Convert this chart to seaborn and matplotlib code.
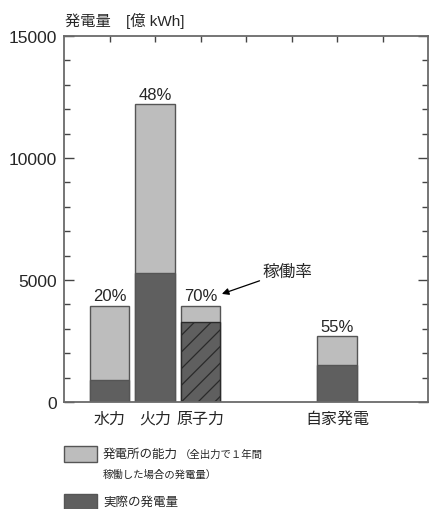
import matplotlib.pyplot as plt
import seaborn as sns
from matplotlib.patches import Rectangle
from matplotlib.ticker import MultipleLocator

categories = ["水力", "火力", "原子力", "自家発電"]
capacity = [3930, 12200, 3930, 2690]
actual = [910, 5280, 3260, 1530]
rates = ["20%", "48%", "70%", "55%"]

# layout: slot of each category on the x axis (1..7, with gaps)
slots = [1, 2, 3, 6]

light = "#bdbdbd"
dark = "#5f5f5f"
edge = "#555555"

sns.set_style("white")
plt.rcParams["font.family"] = ["Liberation Sans", "Noto Sans CJK JP", "DejaVu Sans"]
plt.rcParams["hatch.linewidth"] = 0.9

fig = plt.figure(figsize=(4.3, 5.1), dpi=100)
ax = fig.add_axes([64 / 430, 1 - 403 / 510, 364 / 430, 366 / 510])

sns.barplot(x=slots, y=capacity, native_scale=True, width=0.87, color=light,
            saturation=1, edgecolor=edge, linewidth=1, ax=ax)
sns.barplot(x=slots, y=actual, native_scale=True, width=0.87, color=dark,
            saturation=1, edgecolor=edge, linewidth=1, ax=ax)

nuclear = ax.containers[1][2]
nuclear.set_hatch("//")
nuclear.set_edgecolor("#2a2a2a")

for s, cap, r in zip(slots, capacity, rates):
    ax.text(s, cap + 110, r, ha="center", va="bottom", fontsize=12)

ax.annotate("稼働率", xy=(3.47, 4430), xytext=(4.37, 5370),
            fontsize=12, va="center", ha="left",
            arrowprops=dict(arrowstyle="-|>", color="black", lw=0.9,
                            mutation_scale=10, shrinkA=0, shrinkB=0))

ax.set_xlim(0, 8)
ax.set_ylim(0, 15000)
ax.set_xticks(range(1, 8))
labels = [""] * 7
for s, c in zip(slots, categories):
    labels[s - 1] = c
ax.set_xticklabels(labels, fontsize=11.5)
ax.set_yticks([0, 5000, 10000, 15000])
ax.set_yticklabels(["0", "5000", "10000", "15000"], fontsize=12.5)
ax.yaxis.set_minor_locator(MultipleLocator(1000))
ax.set_xlabel("")
ax.set_ylabel("")

ax.tick_params(axis="x", which="major", bottom=False, top=True, direction="in",
               length=4.5, width=1, color="#444444", pad=6)
ax.tick_params(axis="y", which="major", left=True, right=True, direction="in",
               length=7, width=1, color="#444444", pad=5)
ax.tick_params(axis="y", which="minor", left=True, right=True, direction="in",
               length=4.5, width=1, color="#444444")

for sp in ax.spines.values():
    sp.set_visible(True)
    sp.set_color("#6a6a6a")
    sp.set_linewidth(1.3)

fig.text(65 / 430, 1 - 21 / 510, "発電量　[億 kWh]", fontsize=11, va="center", ha="left")

# legend
fig.add_artist(Rectangle((64 / 430, 1 - 463 / 510), 33 / 430, 16 / 510,
                         transform=fig.transFigure, facecolor=light,
                         edgecolor=edge, linewidth=1))
fig.add_artist(Rectangle((64 / 430, 1 - 511 / 510), 33 / 430, 16 / 510,
                         transform=fig.transFigure, facecolor=dark,
                         edgecolor=edge, linewidth=1))
fig.text(103 / 430, 1 - 455 / 510, "発電所の能力", fontsize=9, va="center")
fig.text(180 / 430, 1 - 455 / 510, "（全出力で１年間", fontsize=7.5, va="center")
fig.text(103 / 430, 1 - 475 / 510, "稼働した場合の発電量）", fontsize=7.5, va="center")
fig.text(103 / 430, 1 - 503 / 510, "実際の発電量", fontsize=9, va="center")

fig.savefig("out.png", dpi=100)
